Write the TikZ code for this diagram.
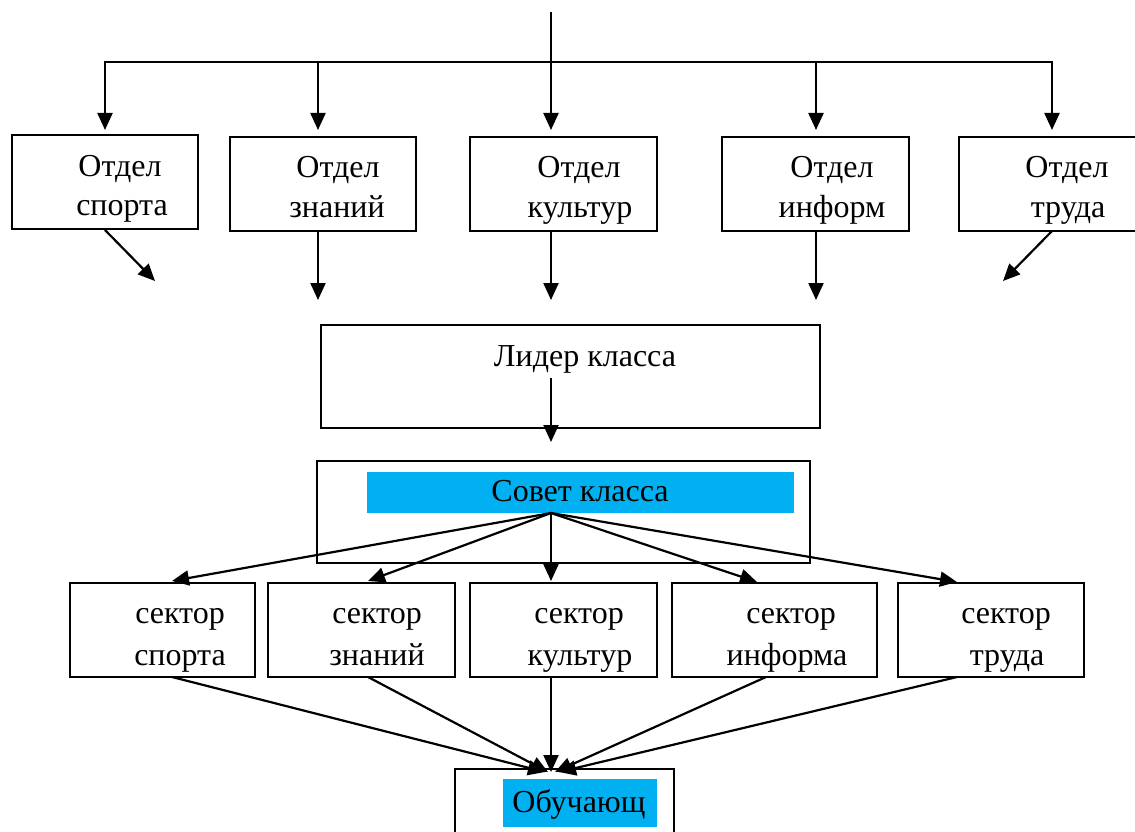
\documentclass[tikz,border=0pt]{standalone}
\usepackage{fontspec}
\setmainfont{Liberation Serif}
\usetikzlibrary{arrows.meta}
\definecolor{cyanfill}{HTML}{00B0F0}
\tikzset{
  box/.style={draw, line width=2pt, rectangle, inner sep=0pt},
  lbl/.style={anchor=base, inner sep=0pt, font=\fontsize{32}{38}\selectfont},
  conn/.style={line width=2.2pt},
  arr/.style={line width=2.2pt, -{Triangle[length=17pt,width=15pt]}},
  hilite/.style={fill=cyanfill, inner sep=0pt, rectangle}
}
\begin{document}
\begin{tikzpicture}[x=1pt,y=-1pt]
\useasboundingbox (0,0) rectangle (1135,832);
% top row boxes
\node[box, minimum width=186pt, minimum height=94pt] (b1) at (105,182) {};
\node[box, minimum width=186pt, minimum height=94pt] (b2) at (323,184) {};
\node[box, minimum width=187pt, minimum height=94pt] (b3) at (563.5,184) {};
\node[box, minimum width=187pt, minimum height=94pt] (b4) at (815.5,184) {};
\node[box, minimum width=186pt, minimum height=94pt] (b5) at (1052,184) {};
\node[lbl] (t1a) at (120,176) {Отдел};
\node[lbl] (t1b) at (122,215) {спорта};
\node[lbl] (t2a) at (338,178) {Отдел};
\node[lbl] (t2b) at (337,217) {знаний};
\node[lbl] (t3a) at (579,178) {Отдел};
\node[lbl] (t3b) at (580,217) {культур};
\node[lbl] (t4a) at (832,178) {Отдел};
\node[lbl] (t4b) at (832,217) {информ};
\node[lbl] (t5a) at (1067,178) {Отдел};
\node[lbl] (t5b) at (1068,217) {труда};
% top distribution
\coordinate (top) at (551,12);
\coordinate (j3) at (551,62);
\coordinate (j1) at (105,62);
\coordinate (j2) at (318,62);
\coordinate (j4) at (816,62);
\coordinate (j5) at (1052,62);
\draw[conn] (top) -- (j3);
\draw[conn, line cap=rect] (j1) -- (j5);
\coordinate (a1) at (105,130);
\coordinate (a2) at (318,130);
\coordinate (a3) at (551,130);
\coordinate (a4) at (816,130);
\coordinate (a5) at (1052,130);
\draw[arr] (j1) -- (a1);
\draw[arr] (j2) -- (a2);
\draw[arr] (j3) -- (a3);
\draw[arr] (j4) -- (a4);
\draw[arr] (j5) -- (a5);
% arrows below top boxes
\coordinate (d1s) at (105,230);
\coordinate (d1e) at (155,281);
\coordinate (d2s) at (318,231);
\coordinate (d2e) at (318,300);
\coordinate (d3s) at (551,231);
\coordinate (d3e) at (551,300);
\coordinate (d4s) at (816,231);
\coordinate (d4e) at (816,300);
\coordinate (d5s) at (1052,231);
\coordinate (d5e) at (1003,281);
\draw[arr] (d1s) -- (d1e);
\draw[arr] (d2s) -- (d2e);
\draw[arr] (d3s) -- (d3e);
\draw[arr] (d4s) -- (d4e);
\draw[arr] (d5s) -- (d5e);
% leader
\node[box, minimum width=499pt, minimum height=103pt] (lider) at (570.5,376.5) {};
\node[lbl] (lidert) at (585,366) {Лидер класса};
\coordinate (ls) at (551,378);
\coordinate (le) at (551,442);
\draw[arr] (ls) -- (le);
% council
\node[box, minimum width=493pt, minimum height=102pt] (sovet) at (563.5,512) {};
\node[hilite, minimum width=427pt, minimum height=41pt] (sovetbg) at (580.5,492.5) {};
\node[lbl] (sovett) at (580,501) {Совет класса};
\coordinate (so) at (551,513);
% sectors
\node[box, minimum width=185pt, minimum height=94pt] (s1) at (162.5,630) {};
\node[box, minimum width=187pt, minimum height=94pt] (s2) at (361.5,630) {};
\node[box, minimum width=187pt, minimum height=94pt] (s3) at (563.5,630) {};
\node[box, minimum width=205pt, minimum height=94pt] (s4) at (774.5,630) {};
\node[box, minimum width=186pt, minimum height=94pt] (s5) at (991,630) {};
\node[lbl] (u1a) at (180,623) {сектор};
\node[lbl] (u1b) at (180,665) {спорта};
\node[lbl] (u2a) at (377,623) {сектор};
\node[lbl] (u2b) at (377,665) {знаний};
\node[lbl] (u3a) at (579,623) {сектор};
\node[lbl] (u3b) at (580,665) {культур};
\node[lbl] (u4a) at (791,623) {сектор};
\node[lbl] (u4b) at (787,665) {информа};
\node[lbl] (u5a) at (1006,623) {сектор};
\node[lbl] (u5b) at (1007,665) {труда};
\coordinate (p1) at (172,581);
\coordinate (p2) at (368,581);
\coordinate (p3) at (551,581);
\coordinate (p4) at (757,582);
\coordinate (p5) at (957,582);
\draw[arr] (so) -- (p1);
\draw[arr] (so) -- (p2);
\draw[arr] (so) -- (p3);
\draw[arr] (so) -- (p4);
\draw[arr] (so) -- (p5);
% bottom
\node[box, minimum width=219pt, minimum height=90pt, anchor=north west] (obu) at (454,768) {};
\node[hilite, minimum width=154pt, minimum height=48pt] (obubg) at (580,803) {};
\node[lbl] (obut) at (579,812) {Обучающ};
\coordinate (q1) at (172,677);
\coordinate (q2) at (368,677);
\coordinate (q3) at (551,677);
\coordinate (q4) at (766,677);
\coordinate (q5) at (957,677);
\coordinate (r1) at (545,772);
\coordinate (r2) at (548,772);
\coordinate (r3) at (551,772);
\coordinate (r4) at (555,772);
\coordinate (r5) at (559,772);
\draw[arr] (q1) -- (r1);
\draw[arr] (q2) -- (r2);
\draw[arr] (q3) -- (r3);
\draw[arr] (q4) -- (r4);
\draw[arr] (q5) -- (r5);
\end{tikzpicture}
\end{document}
